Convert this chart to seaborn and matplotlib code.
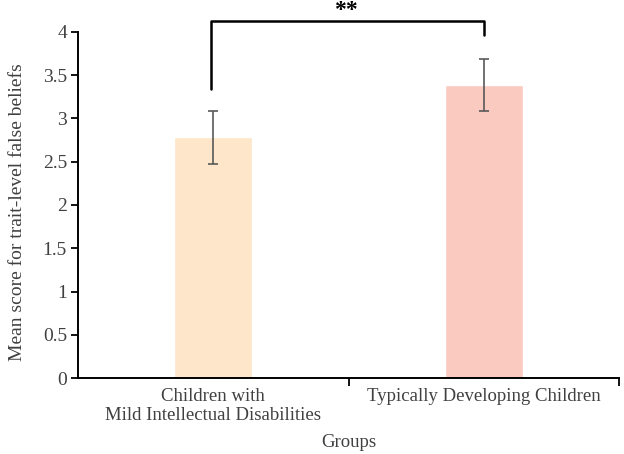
import numpy as np
import pandas as pd
import seaborn as sns
import matplotlib.pyplot as plt

groups = ["Children with\nMild Intellectual Disabilities", "Typically Developing Children"]
means = [2.78, 3.39]
errors = [0.31, 0.30]
colors = ["#FDE6C9", "#FAC9BF"]

df = pd.DataFrame({"Groups": groups, "Mean": means})

sns.set_style("white")
plt.rcParams['font.family'] = ['Liberation Serif', 'DejaVu Serif']

fig = plt.figure(figsize=(6.24, 4.54), dpi=100)
ax = fig.add_axes([0.125, 0.167, 0.867, 0.763])

sns.barplot(data=df, x="Groups", y="Mean", hue="Groups", palette=colors,
            width=0.29, saturation=1, legend=False, ax=ax)
ax.errorbar(range(len(groups)), means, yerr=errors, fmt="none",
            ecolor="#595959", elinewidth=1.2, capsize=3.5, capthick=1.2)

ax.set_xlim(-0.5, 1.5)
ax.set_ylim(0, 4)
ax.set_yticks(np.arange(0, 4.01, 0.5))
ax.set_yticklabels(["0", "0.5", "1", "1.5", "2", "2.5", "3", "3.5", "4"])
ax.set_xticks([0, 1])
ax.set_xticklabels(groups)
ax.set_xticks([0.5, 1.5], minor=True)
ax.tick_params(axis="x", which="major", bottom=False, length=0, labelsize=13.5,
               colors="#404040", pad=7)
ax.tick_params(axis="x", which="minor", bottom=True, length=6, width=1.3,
               color="black", direction="out")
ax.tick_params(axis="y", length=5, width=1.3, color="black", direction="out",
               labelsize=14, labelcolor="#404040", left=True, pad=3)
for lbl in ax.get_xticklabels():
    lbl.set_linespacing(1.15)

for s in ["top", "right"]:
    ax.spines[s].set_visible(False)
for s in ["left", "bottom"]:
    ax.spines[s].set_color("black")
    ax.spines[s].set_linewidth(1.4)

ax.set_ylabel("Mean score for trait-level false beliefs", fontsize=14, color="#404040")
ax.yaxis.set_label_coords(-0.097, 0.48)
ax.set_xlabel("Groups", fontsize=13.5, color="#404040", labelpad=7)

# significance bracket
y_lo1, y_lo2, y_top = 3.34, 3.96, 4.13
ax.plot([-0.01, -0.01, 1.0, 1.0], [y_lo1, y_top, y_top, y_lo2],
        color="black", lw=1.8, clip_on=False)
ax.text(0.49, 4.24, "**", ha="center", va="center", fontsize=17,
        fontweight="bold", color="black", clip_on=False)

fig.savefig("out.png", dpi=100)
